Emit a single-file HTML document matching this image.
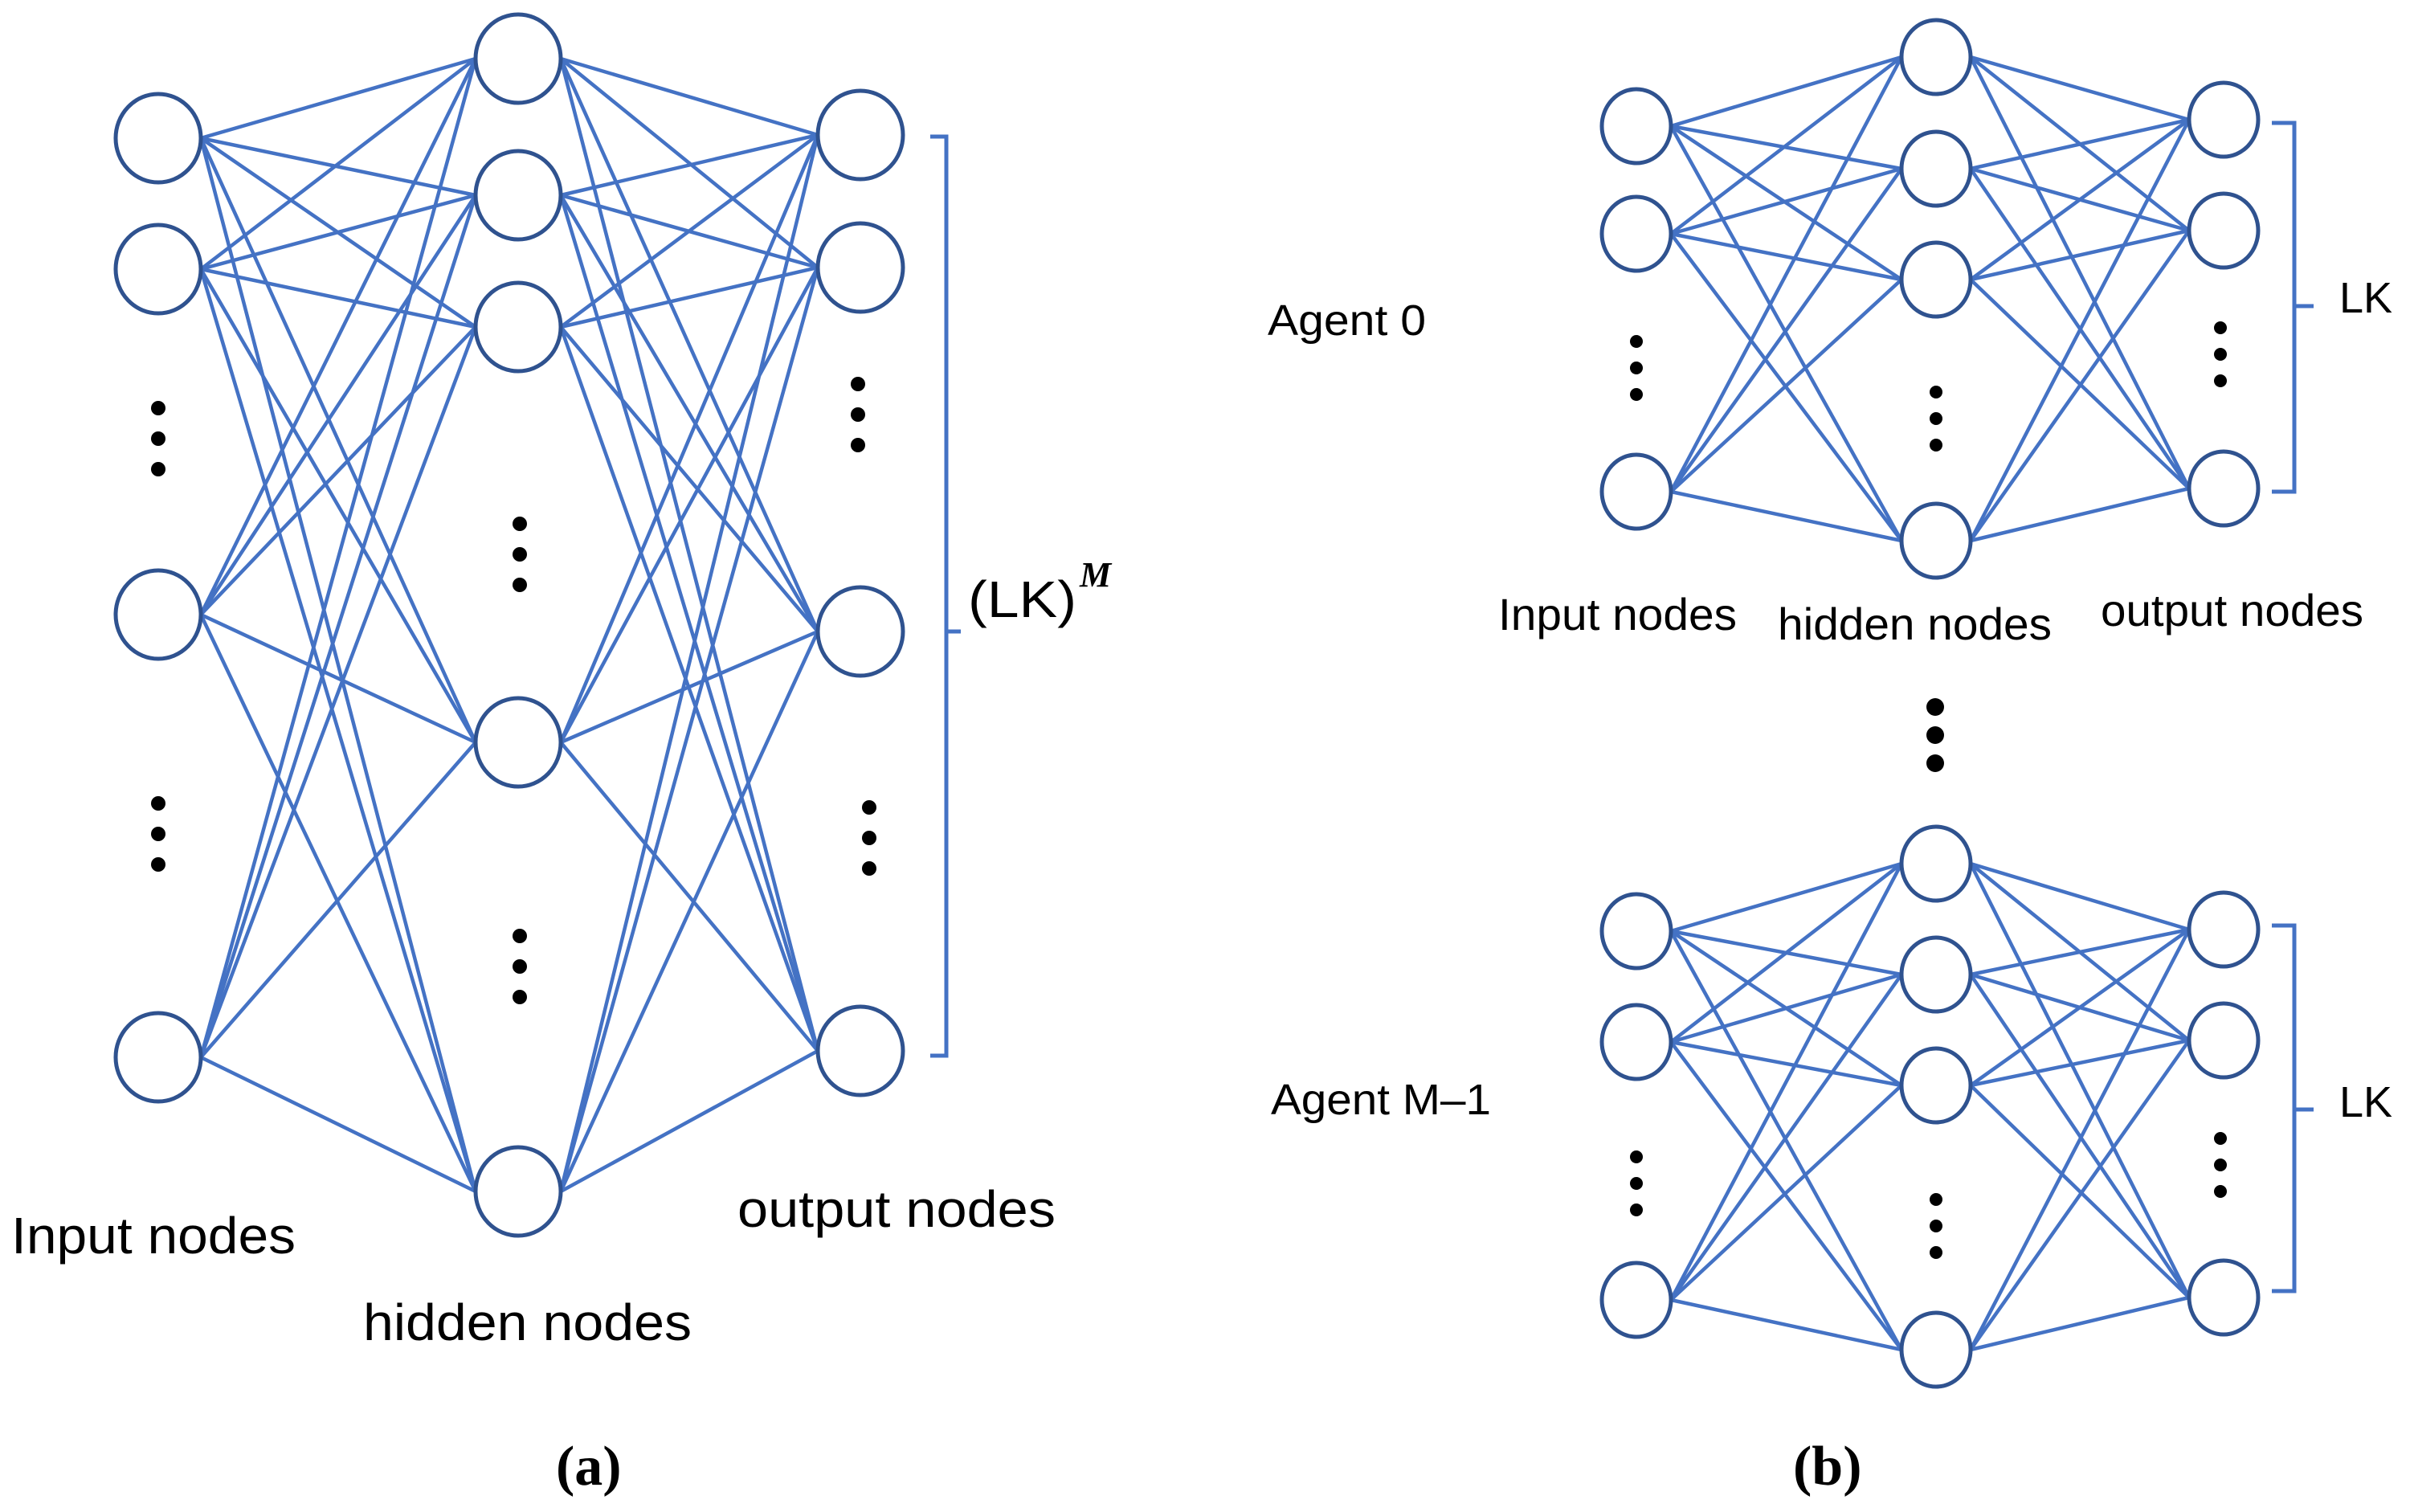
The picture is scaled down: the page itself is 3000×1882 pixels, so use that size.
<!DOCTYPE html>
<html><head><meta charset="utf-8">
<style>
html,body{margin:0;padding:0;background:#fff;}
svg{display:block;}
text{font-family:"Liberation Sans",sans-serif;fill:#000;}
</style></head>
<body>
<svg id="s" width="3000" height="1882" viewBox="0 0 3000 1882" xmlns="http://www.w3.org/2000/svg">
<g id="lines" stroke="#4472C4" stroke-width="4.5" fill="none"></g>
<g id="nodes" stroke="#2F528F" stroke-width="5" fill="#fff"></g>
<g id="dots" fill="#000"></g>
<g stroke="#4472C4" stroke-width="5" fill="none">
<polyline points="1158,170 1178,170 1178,1314 1158,1314"/>
<line x1="1178" y1="786" x2="1196" y2="786"/>
<polyline points="2828,153 2856,153 2856,612 2828,612"/>
<line x1="2856" y1="381" x2="2880" y2="381"/>
<polyline points="2828,1152 2856,1152 2856,1607 2828,1607"/>
<line x1="2856" y1="1381" x2="2880" y2="1381"/>
</g>
<text x="14" y="1560" font-size="64" textLength="354" lengthAdjust="spacingAndGlyphs">Input nodes</text>
<text x="452" y="1668" font-size="64" textLength="409" lengthAdjust="spacingAndGlyphs">hidden nodes</text>
<text x="918" y="1527" font-size="64" textLength="396" lengthAdjust="spacingAndGlyphs">output nodes</text>
<text x="1205" y="768" font-size="64" textLength="135" lengthAdjust="spacingAndGlyphs">(LK)</text>
<text x="1344" y="730" font-size="44" font-style="italic" font-weight="bold" style="font-family:'Liberation Serif',serif">M</text>
<text x="692" y="1848" font-size="70" style="font-family:'Liberation Serif',serif;font-weight:bold">(a)</text>
<text x="1578" y="417" font-size="54" textLength="197" lengthAdjust="spacingAndGlyphs">Agent 0</text>
<text x="1582" y="1387" font-size="54" textLength="274" lengthAdjust="spacingAndGlyphs">Agent M–1</text>
<text x="1865" y="784" font-size="56" textLength="297" lengthAdjust="spacingAndGlyphs">Input nodes</text>
<text x="2213" y="796" font-size="56" textLength="341" lengthAdjust="spacingAndGlyphs">hidden nodes</text>
<text x="2615" y="779" font-size="56" textLength="327" lengthAdjust="spacingAndGlyphs">output nodes</text>
<text x="2912" y="389" font-size="54">LK</text>
<text x="2912" y="1390" font-size="54">LK</text>
<text x="2232" y="1848" font-size="70" style="font-family:'Liberation Serif',serif;font-weight:bold">(b)</text>
</svg>
<script>
var NS="http://www.w3.org/2000/svg";
function el(p,t,a){var e=document.createElementNS(NS,t);for(var k in a)e.setAttribute(k,a[k]);document.getElementById(p).appendChild(e);}
function net(L,rx,ry){
  for(var i=0;i<L.length-1;i++){
    var A=L[i],B=L[i+1];
    A.ys.forEach(function(ya){B.ys.forEach(function(yb){
      el("lines","line",{x1:A.x+rx,y1:ya,x2:B.x-rx,y2:yb});});});
  }
  L.forEach(function(l){l.ys.forEach(function(y){el("nodes","ellipse",{cx:l.x,cy:y,rx:rx,ry:ry});});});
}
function dots(x,y0,step,r){for(var i=0;i<3;i++)el("dots","circle",{cx:x,cy:y0+i*step,r:r});}
net([{x:197,ys:[172,335,765,1316]},{x:645,ys:[73,243,407,924,1483]},{x:1071,ys:[168,333,786,1308]}],53,55);
dots(197,508,38,9);dots(197,1000,38,9);dots(647,652,38,9);dots(647,1165,38,9);dots(1068,478,38,9);dots(1082,1005,38,9);
net([{x:2037,ys:[157,291,612]},{x:2410,ys:[71,210,348,673]},{x:2768,ys:[149,287,608]}],43,46);
net([{x:2037,ys:[1159,1297,1618]},{x:2410,ys:[1075,1213,1351,1680]},{x:2768,ys:[1157,1295,1615]}],43,46);
dots(2037,425,33,8);dots(2410,488,33,8);dots(2764,408,33,8);
dots(2037,1440,33,8);dots(2410,1493,33,8);dots(2764,1417,33,8);
dots(2409,880,35,11);
</script>
</body></html>
